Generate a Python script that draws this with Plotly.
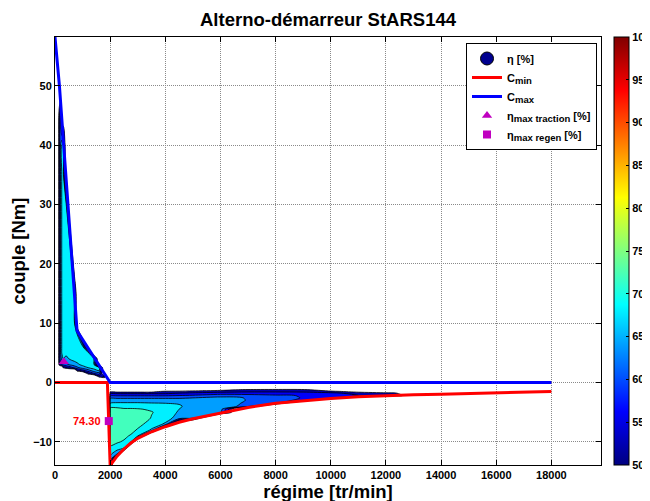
import plotly.graph_objects as go

# ---------------- data ----------------
chart_title = "Alterno-démarreur StARS144"
x_title = "régime [tr/min]"
y_title = "couple [Nm]"

# torque limits
cmax_rpm = [0, 160, 800, 2000, 18000]
cmax_nm = [58.2, 50.0, 8.7, 0.0, 0.0]

cmin_rpm = [0, 1900, 2000, 2250, 2500, 2750, 3000, 3500, 4000, 4500, 5000, 6000,
            7000, 8000, 9000, 10000, 11000, 12000, 13000, 14000, 15000, 16000, 17000, 18000]
cmin_nm = [0, 0, -14.0, -12.4, -11.2, -10.2, -9.4, -8.3, -7.45, -6.7, -6.1, -5.1,
           -4.2, -3.5, -3.05, -2.7, -2.42, -2.2, -2.07, -1.97, -1.86, -1.75, -1.63, -1.52]

# efficiency maxima
trac_max_rpm = [320]
trac_max_nm = [3.5]
regen_max_rpm = [1950]
regen_max_nm = [-6.5]
regen_max_eta = 74.30

# regen efficiency map (values outside the operating zone are below 50)
OUT_LO = 30
regen_rpm = [1950, 2000, 2250, 2500, 2750, 3000, 3500, 4000, 4500, 5000, 6000,
             7000, 8000, 9000, 10000, 11000, 12000, 13000]
regen_nm = [-14, -13, -12, -11, -10, -9, -8, -7, -6, -5, -4.5, -4, -3.5, -3,
            -2.6, -2.2, -1.8, -1.5, -1.2, -0.9]
regen_eta_by_rpm = [
    [OUT_LO] * 20,
    [60, 64, 67, 69.5, 71, 72, 73, 73.5, 73.5, 72.5, 71, 69, 66, 64, 61.5, 57, 53, 48, 40, 40],
    [30, 30, 63, 68, 70.5, 72, 73, 73.5, 73.5, 72.5, 71, 69, 66.5, 64, 61.5, 57.5, 53, 48, 40, 40],
    [30, 30, 30, 67.5, 69.5, 71, 72.5, 73, 73, 72, 70.5, 68.5, 66.5, 64, 61.5, 57.5, 53, 48, 40, 40],
    [30, 30, 30, 30, 66, 69.5, 71.5, 72.5, 73, 72, 70.5, 68.5, 66.5, 64, 61.5, 57.5, 53, 48, 40, 40],
    [30, 30, 30, 30, 30, 66.5, 69.5, 71.5, 72.5, 71.5, 70.3, 68.5, 66.5, 64, 61.5, 57.5, 53, 48, 40, 40],
    [30, 30, 30, 30, 30, 30, 65.5, 68, 69.8, 70.2, 69.5, 68, 66.2, 64, 61.5, 57.5, 53, 48, 40, 40],
    [30, 30, 30, 30, 30, 30, 30, 65.5, 67.5, 68.5, 68.5, 67.5, 66, 64, 61.5, 57.5, 53, 51, 40, 40],
    [30, 30, 30, 30, 30, 30, 30, 36, 64.5, 65.5, 66, 66.3, 65.8, 64, 61.5, 58, 54, 51.5, 40, 40],
    [30, 30, 30, 30, 30, 30, 30, 20, 63.5, 64.5, 64.8, 65, 64.8, 64, 62, 58.5, 54.5, 52, 45, 40],
    [30, 30, 30, 30, 30, 30, 30, 30, 15, 63.5, 64, 64.2, 64.2, 63.8, 63, 60.5, 55.5, 52.5, 48, 40],
    [OUT_LO] * 11 + [60.5, 61.2, 61.8, 61.8, 59.5, 56, 53, 50.5, 40],
    [OUT_LO] * 12 + [58.5, 59.5, 59.5, 58.5, 56, 53, 51, 40],
    [OUT_LO] * 13 + [57, 57.8, 57.8, 55.5, 53, 50.5, 40],
    [OUT_LO] * 14 + [55.5, 56, 55, 51, 45, 40],
    [OUT_LO] * 15 + [54, 52.5, 48, 44, 40],
    [OUT_LO] * 15 + [53, 51, 46, 42, 40],
    [OUT_LO] * 15 + [48, 48.5, 44, 40, 40],
]

# traction efficiency map
trac_rpm = [100, 150, 200, 250, 300, 400, 500, 600, 700, 800, 1000, 1200, 1400, 1600, 1800, 1950]
trac_nm = [0, 0.5, 1, 1.5, 2, 2.5, 3, 4, 5, 6, 8, 10, 15, 20, 25, 30, 35, 40, 45, 50, 55]
trac_eta = [
    [40] * 16,
    [40] * 16,
    [40, 40, 40, 40, 40, 40, 40, 40, 40, 40, 40, 40, 40, 52, 55, 40],
    [40, 40, 40, 40, 40, 40, 40, 40, 40, 40, 40, 52, 57, 60, 40, 40],
    [40, 40, 40, 40, 40, 40, 40, 40, 40, 52, 56, 60, 64, 66, 40, 40],
    [40, 40, 40, 40, 51, 53, 55, 57, 59, 61, 64, 66, 67.5, 67, 40, 40],
    [40, 52, 56, 58, 59, 61, 62, 63, 64, 65, 67, 68, 68, 40, 40, 40],
    [40, 54, 60, 63, 66, 65, 66, 67, 67.5, 68, 68, 68, 68, 40, 40, 40],
    [40, 54, 62, 66.5, 68, 67, 68, 68, 68, 68, 68, 68, 40, 40, 40, 40],
    [40, 54, 62, 66.5, 68, 68, 68, 68, 68, 68, 68, 40, 40, 40, 40, 40],
    [40, 54, 62, 66.5, 68, 68, 68, 68, 68, 68, 40, 40, 40, 40, 40, 40],
    [40, 54, 62, 66.5, 68, 68, 68, 68, 68, 40, 40, 40, 40, 40, 40, 40],
    [40, 54, 62, 66.5, 68, 68, 68, 68, 68, 40, 40, 40, 40, 40, 40, 40],
    [40, 54, 62, 66.5, 68, 68, 68, 68, 40, 40, 40, 40, 40, 40, 40, 40],
    [40, 54, 62, 66.5, 68, 68, 68, 40, 40, 40, 40, 40, 40, 40, 40, 40],
    [40, 54, 62, 66.5, 68, 68, 40, 40, 40, 40, 40, 40, 40, 40, 40, 40],
    [40, 54, 62, 66.5, 68, 40, 40, 40, 40, 40, 40, 40, 40, 40, 40, 40],
    [40, 54, 62, 66.5, 67.5, 40, 40, 40, 40, 40, 40, 40, 40, 40, 40, 40],
    [40, 53, 61, 40, 40, 40, 40, 40, 40, 40, 40, 40, 40, 40, 40, 40],
    [40] * 16,
    [40] * 16,
]

x_ticks = [0, 2000, 4000, 6000, 8000, 10000, 12000, 14000, 16000, 18000]
y_ticks = [-10, 0, 10, 20, 30, 40, 50]
cbar_ticks = [50, 55, 60, 65, 70, 75, 80, 85, 90, 95, 100]

# ---------------- styling helpers ----------------
FONT = "Liberation Sans, Arial, sans-serif"


def jet(t):
    def c(v):
        return max(0.0, min(1.0, v))
    r = c(1.5 - abs(4 * t - 3))
    g = c(1.5 - abs(4 * t - 2))
    b = c(1.5 - abs(4 * t - 1))
    return "rgb(%d,%d,%d)" % (round(r * 255), round(g * 255), round(b * 255))


jet_scale = [[0, "rgb(0,0,128)"], [0.125, "rgb(0,0,255)"], [0.375, "rgb(0,255,255)"],
             [0.625, "rgb(255,255,0)"], [0.875, "rgb(255,0,0)"], [1, "rgb(128,0,0)"]]

LV_START, LV_END, LV_SIZE = 50, 74, 4
lo = LV_START - LV_SIZE / 2
hi = LV_END + LV_SIZE / 2
band_scale = [[0, "rgba(0,0,0,0)"]]
v = LV_START + LV_SIZE / 2
while v <= hi + 1e-9:
    band_scale.append([(v - lo) / (hi - lo), jet((v - 50) / 50)])
    v += LV_SIZE

regen_eta = [list(r) for r in zip(*regen_eta_by_rpm)]


def sub(s):
    return '<sub><span style="font-size:9.5px">%s</span></sub>' % s


fig = go.Figure()

# legend entry for the map
fig.add_trace(go.Scatter(x=[None], y=[None], mode="markers", name="η [%]",
                         marker=dict(symbol="circle", size=13, color="#00008F",
                                     line=dict(color="black", width=1))))

contour_common = dict(
    autocontour=False,
    contours=dict(start=LV_START, end=LV_END, size=LV_SIZE, coloring="fill", showlines=True),
    line=dict(color="black", width=0.8, smoothing=0.8),
    colorscale=band_scale, zmin=lo, zmax=hi, zauto=False,
    showscale=False, showlegend=False, hoverinfo="skip",
)
fig.add_trace(go.Contour(x=regen_rpm, y=regen_nm, z=regen_eta, **contour_common))
fig.add_trace(go.Contour(x=trac_rpm, y=trac_nm, z=trac_eta, **contour_common))

fig.add_trace(go.Scatter(x=cmin_rpm, y=cmin_nm, mode="lines", name="C" + sub("min"),
                         line=dict(color="#FF0000", width=3)))
fig.add_trace(go.Scatter(x=cmax_rpm, y=cmax_nm, mode="lines", name="C" + sub("max"),
                         line=dict(color="#0000FF", width=3)))
fig.add_trace(go.Scatter(x=trac_max_rpm, y=trac_max_nm, mode="markers",
                         name="η" + sub("max traction") + " [%]",
                         marker=dict(symbol="triangle-up", size=9, color="#C000C0")))
fig.add_trace(go.Scatter(x=regen_max_rpm, y=regen_max_nm, mode="markers",
                         name="η" + sub("max regen") + " [%]",
                         marker=dict(symbol="square", size=8, color="#C000C0")))

# colour bar
fig.add_trace(go.Scatter(
    x=[None], y=[None], mode="markers", showlegend=False, hoverinfo="skip",
    marker=dict(color=[75], colorscale=jet_scale, cmin=50, cmax=100, showscale=True,
                colorbar=dict(x=1.0238, xanchor="left", xpad=0, y=0.5, yanchor="middle",
                              len=1, lenmode="fraction", ypad=0, thickness=15,
                              outlinecolor="black", outlinewidth=1,
                              tickvals=cbar_ticks, ticks="inside", ticklen=3,
                              tickcolor="black",
                              tickfont=dict(family=FONT, size=11, color="black", weight="bold")))))

fig.add_annotation(x=regen_max_rpm[0], y=regen_max_nm[0], text="%.2f" % regen_max_eta,
                   showarrow=False, xanchor="right", yanchor="middle", xshift=-6,
                   font=dict(family=FONT, size=11, color="#FF0000", weight="bold"))

axis_common = dict(
    showline=True, linecolor="black", linewidth=1, mirror="ticks",
    ticks="inside", ticklen=5, tickcolor="black", tickwidth=1,
    showgrid=True, gridcolor="#8a8a8a", griddash="1px,1px", gridwidth=1,
    zeroline=False, automargin=False,
    tickfont=dict(family=FONT, size=11, color="black", weight="bold"),
)

# the page body adds an 8 px offset; margins compensate for it
fig.update_layout(
    width=650, height=501,
    margin=dict(l=47, r=57, t=29, b=44, autoexpand=False),
    paper_bgcolor="white", plot_bgcolor="white",
    font=dict(family=FONT, size=11, color="black"),
    title=dict(text=chart_title, x=0.5, xref="paper", xanchor="center",
               y=0.977, yref="container", yanchor="middle",
               font=dict(family=FONT, size=18.5, color="black", weight="bold")),
    xaxis=dict(range=[0, 19800], tickvals=x_ticks, tickformat="d",
               title=dict(text=x_title, standoff=4,
                          font=dict(family=FONT, size=18.5, color="black", weight="bold")),
               **axis_common),
    yaxis=dict(range=[-13.9, 58.2], tickvals=y_ticks,
               title=dict(text=y_title, standoff=3,
                          font=dict(family=FONT, size=18.5, color="black", weight="bold")),
               **axis_common),
    legend=dict(x=0.9927, xanchor="right", y=0.986, yanchor="top",
                bgcolor="white", bordercolor="black", borderwidth=1,
                font=dict(family=FONT, size=11, color="black", weight="bold"),
                itemwidth=30, tracegroupgap=0, traceorder="normal"),
    showlegend=True,
)

fig.write_html("out.html")
